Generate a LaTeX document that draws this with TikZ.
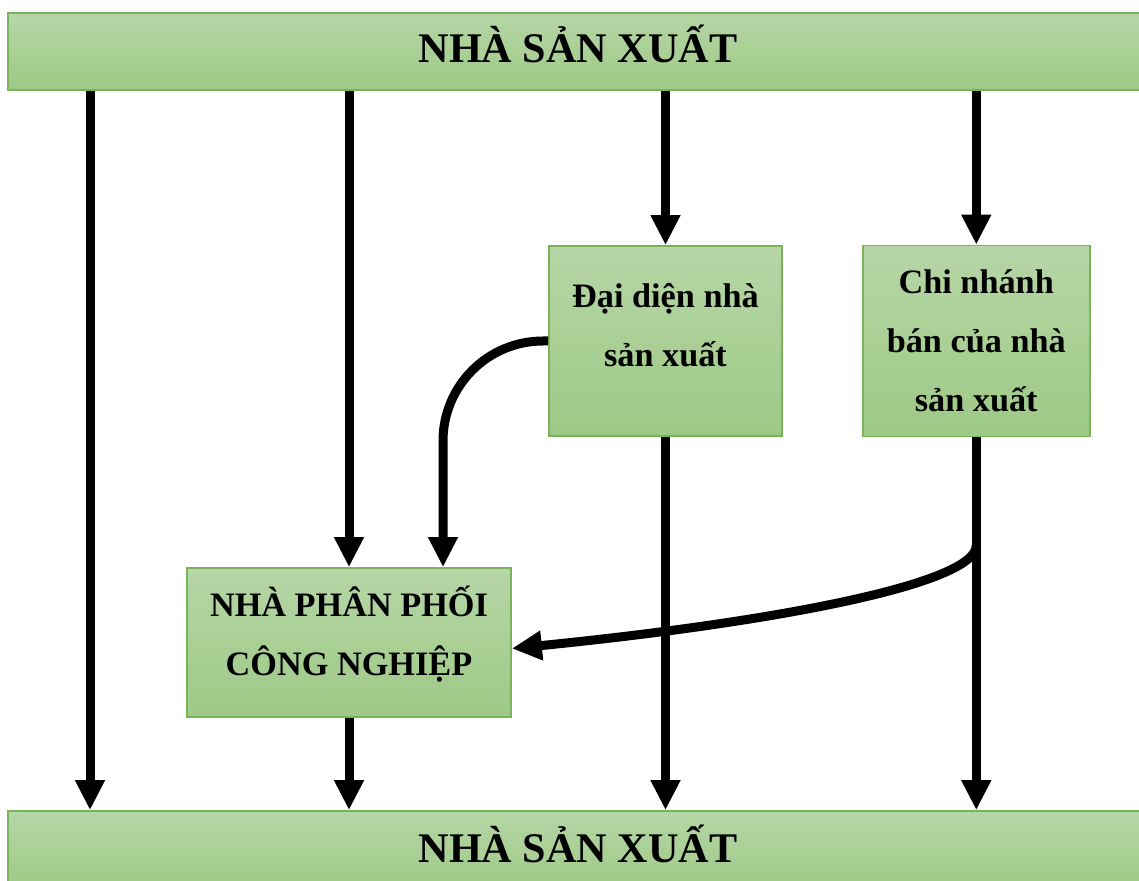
\documentclass[tikz,border=0pt]{standalone}
\usepackage{fontspec}
\setmainfont{Liberation Serif}
\usetikzlibrary{positioning,arrows.meta}
\definecolor{boxtop}{RGB}{182,214,166}
\definecolor{boxbot}{RGB}{157,201,134}
\definecolor{boxedge}{RGB}{122,180,90}
\tikzstyle{bar} = [rectangle, draw=boxedge, line width=1pt, top color=boxtop, bottom color=boxbot,
                   minimum width=22.8cm, minimum height=1.54cm, text height=0.62cm, text depth=0.16cm,
                   font=\fontsize{24}{28}\selectfont\bfseries]
\tikzstyle{agent} = [rectangle, draw=boxedge, line width=1pt, top color=boxtop, bottom color=boxbot,
                     align=center, font=\fontsize{19.5}{33.5}\selectfont\bfseries]
\tikzstyle{arrow} = [line width=0.18cm, -{Triangle[length=0.6cm,width=0.56cm]}]

\begin{document}
\begin{tikzpicture}
    \useasboundingbox (0,0) rectangle (22.78,-17.62);

    % Nodes
    \node (top) [bar] at (11.56,-1.03) {NHÀ SẢN XUẤT};
    \node (bot) [bar, minimum height=1.6cm] at (11.56,-17.02) {NHÀ SẢN XUẤT};

    \node (ddien) [agent, minimum width=4.66cm, minimum height=3.8cm] at (13.31,-6.82) {Đại diện nhà\\sản xuất\\[-0.54cm]\mbox{}};
    \node (chi) [agent, minimum width=4.54cm, minimum height=3.82cm, right=1.58cm of ddien] {Chi nhánh\\bán của nhà\\sản xuất};
    \node (dist) [agent, minimum width=6.48cm, minimum height=2.98cm] at (6.98,-12.85) {NHÀ PHÂN PHỐI\\CÔNG NGHIỆP\\[-0.7cm]\mbox{}};

    \coordinate (col) at (1.8,0);
    \coordinate (split) at ([yshift=-2.16cm]chi.south);

    % Arrows
    \draw [arrow] (top.south -| col) -- (bot.north -| col);
    \draw [arrow] (top.south -| dist.north) -- (dist.north);
    \draw [arrow] (top.south -| ddien.north) -- (ddien.north);
    \draw [arrow] (top.south -| chi.north) -- (chi.north);

    \draw [arrow] (ddien.south) -- (ddien.south |- bot.north);
    \draw [arrow] (chi.south) -- (chi.south |- bot.north);
    \draw [arrow] (dist.south) -- (dist.south |- bot.north);

    \draw [arrow, rounded corners=2cm] (ddien.west) -| ([xshift=1.88cm]dist.north);
    \draw [arrow] (split) .. controls +(0,-0.8) and +(5,0.5) .. ([yshift=-0.12cm]dist.east);
\end{tikzpicture}
\end{document}
